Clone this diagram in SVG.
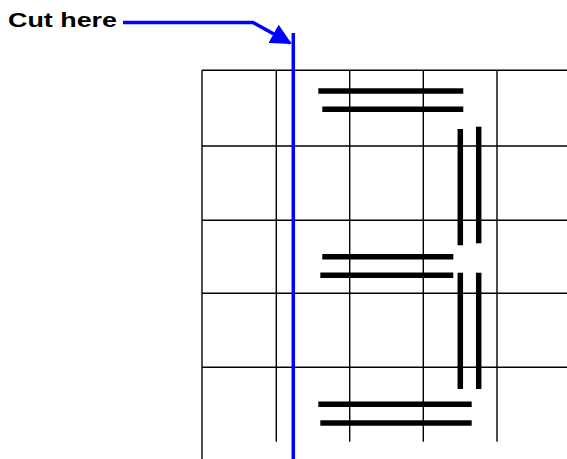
<svg xmlns="http://www.w3.org/2000/svg" width="567" height="459" viewBox="0 0 567 459">
<style>
.grid{stroke:#000;stroke-width:1.4;fill:none}
.bar{stroke:#000;stroke-width:5.5;stroke-linecap:butt;fill:none}
.cut{stroke:#0000ff;stroke-width:3.5;fill:none}
.lbl{font-family:"Liberation Sans",Arial,sans-serif;font-weight:bold;font-size:21px;fill:#000}
</style>
<defs>
<marker id="ah" viewBox="0 0 10 10" refX="9" refY="5" markerWidth="6" markerHeight="6" markerUnits="strokeWidth" orient="auto">
<path d="M0,0 L10,5 L0,10 Z" fill="#0000ff"/>
</marker>
</defs>
<rect width="567" height="459" fill="#fff"/>
<g id="grid" class="grid">
<line x1="202" y1="70.3" x2="202" y2="459"/>
<line x1="276.3" y1="70.3" x2="276.3" y2="441.7"/>
<line x1="349.7" y1="70.3" x2="349.7" y2="441.7"/>
<line x1="423.3" y1="70.3" x2="423.3" y2="441.7"/>
<line x1="497" y1="70.3" x2="497" y2="441.7"/>
<line x1="202" y1="70.3" x2="567" y2="70.3"/>
<line x1="202" y1="146" x2="567" y2="146"/>
<line x1="202" y1="220.3" x2="567" y2="220.3"/>
<line x1="202" y1="293.3" x2="567" y2="293.3"/>
<line x1="202" y1="367.3" x2="567" y2="367.3"/>
</g>
<g id="bars" class="bar">
<line x1="318.3" y1="91" x2="463.3" y2="91"/>
<line x1="322.3" y1="109.3" x2="463.3" y2="109.3"/>
<line x1="460.3" y1="129" x2="460.3" y2="245.3"/>
<line x1="478.7" y1="126.7" x2="478.7" y2="243.3"/>
<line x1="322.3" y1="256.7" x2="453.3" y2="256.7"/>
<line x1="320.3" y1="275.3" x2="453.3" y2="275.3"/>
<line x1="460.3" y1="272.7" x2="460.3" y2="389"/>
<line x1="478.7" y1="272.7" x2="478.7" y2="389"/>
<line x1="318.3" y1="404.3" x2="471.7" y2="404.3"/>
<line x1="320.3" y1="423" x2="471.7" y2="423"/>
</g>
<g id="cut-line">
<line class="cut" x1="293.3" y1="33" x2="293.3" y2="459"/>
</g>
<g id="connectors">
<path class="cut" d="M123,22.5 H253 L290,43" stroke-width="3" marker-end="url(#ah)"/>
</g>
<g id="label">
<text class="lbl" x="8" y="27.3" textLength="109" lengthAdjust="spacingAndGlyphs">Cut here</text>
</g>
</svg>
